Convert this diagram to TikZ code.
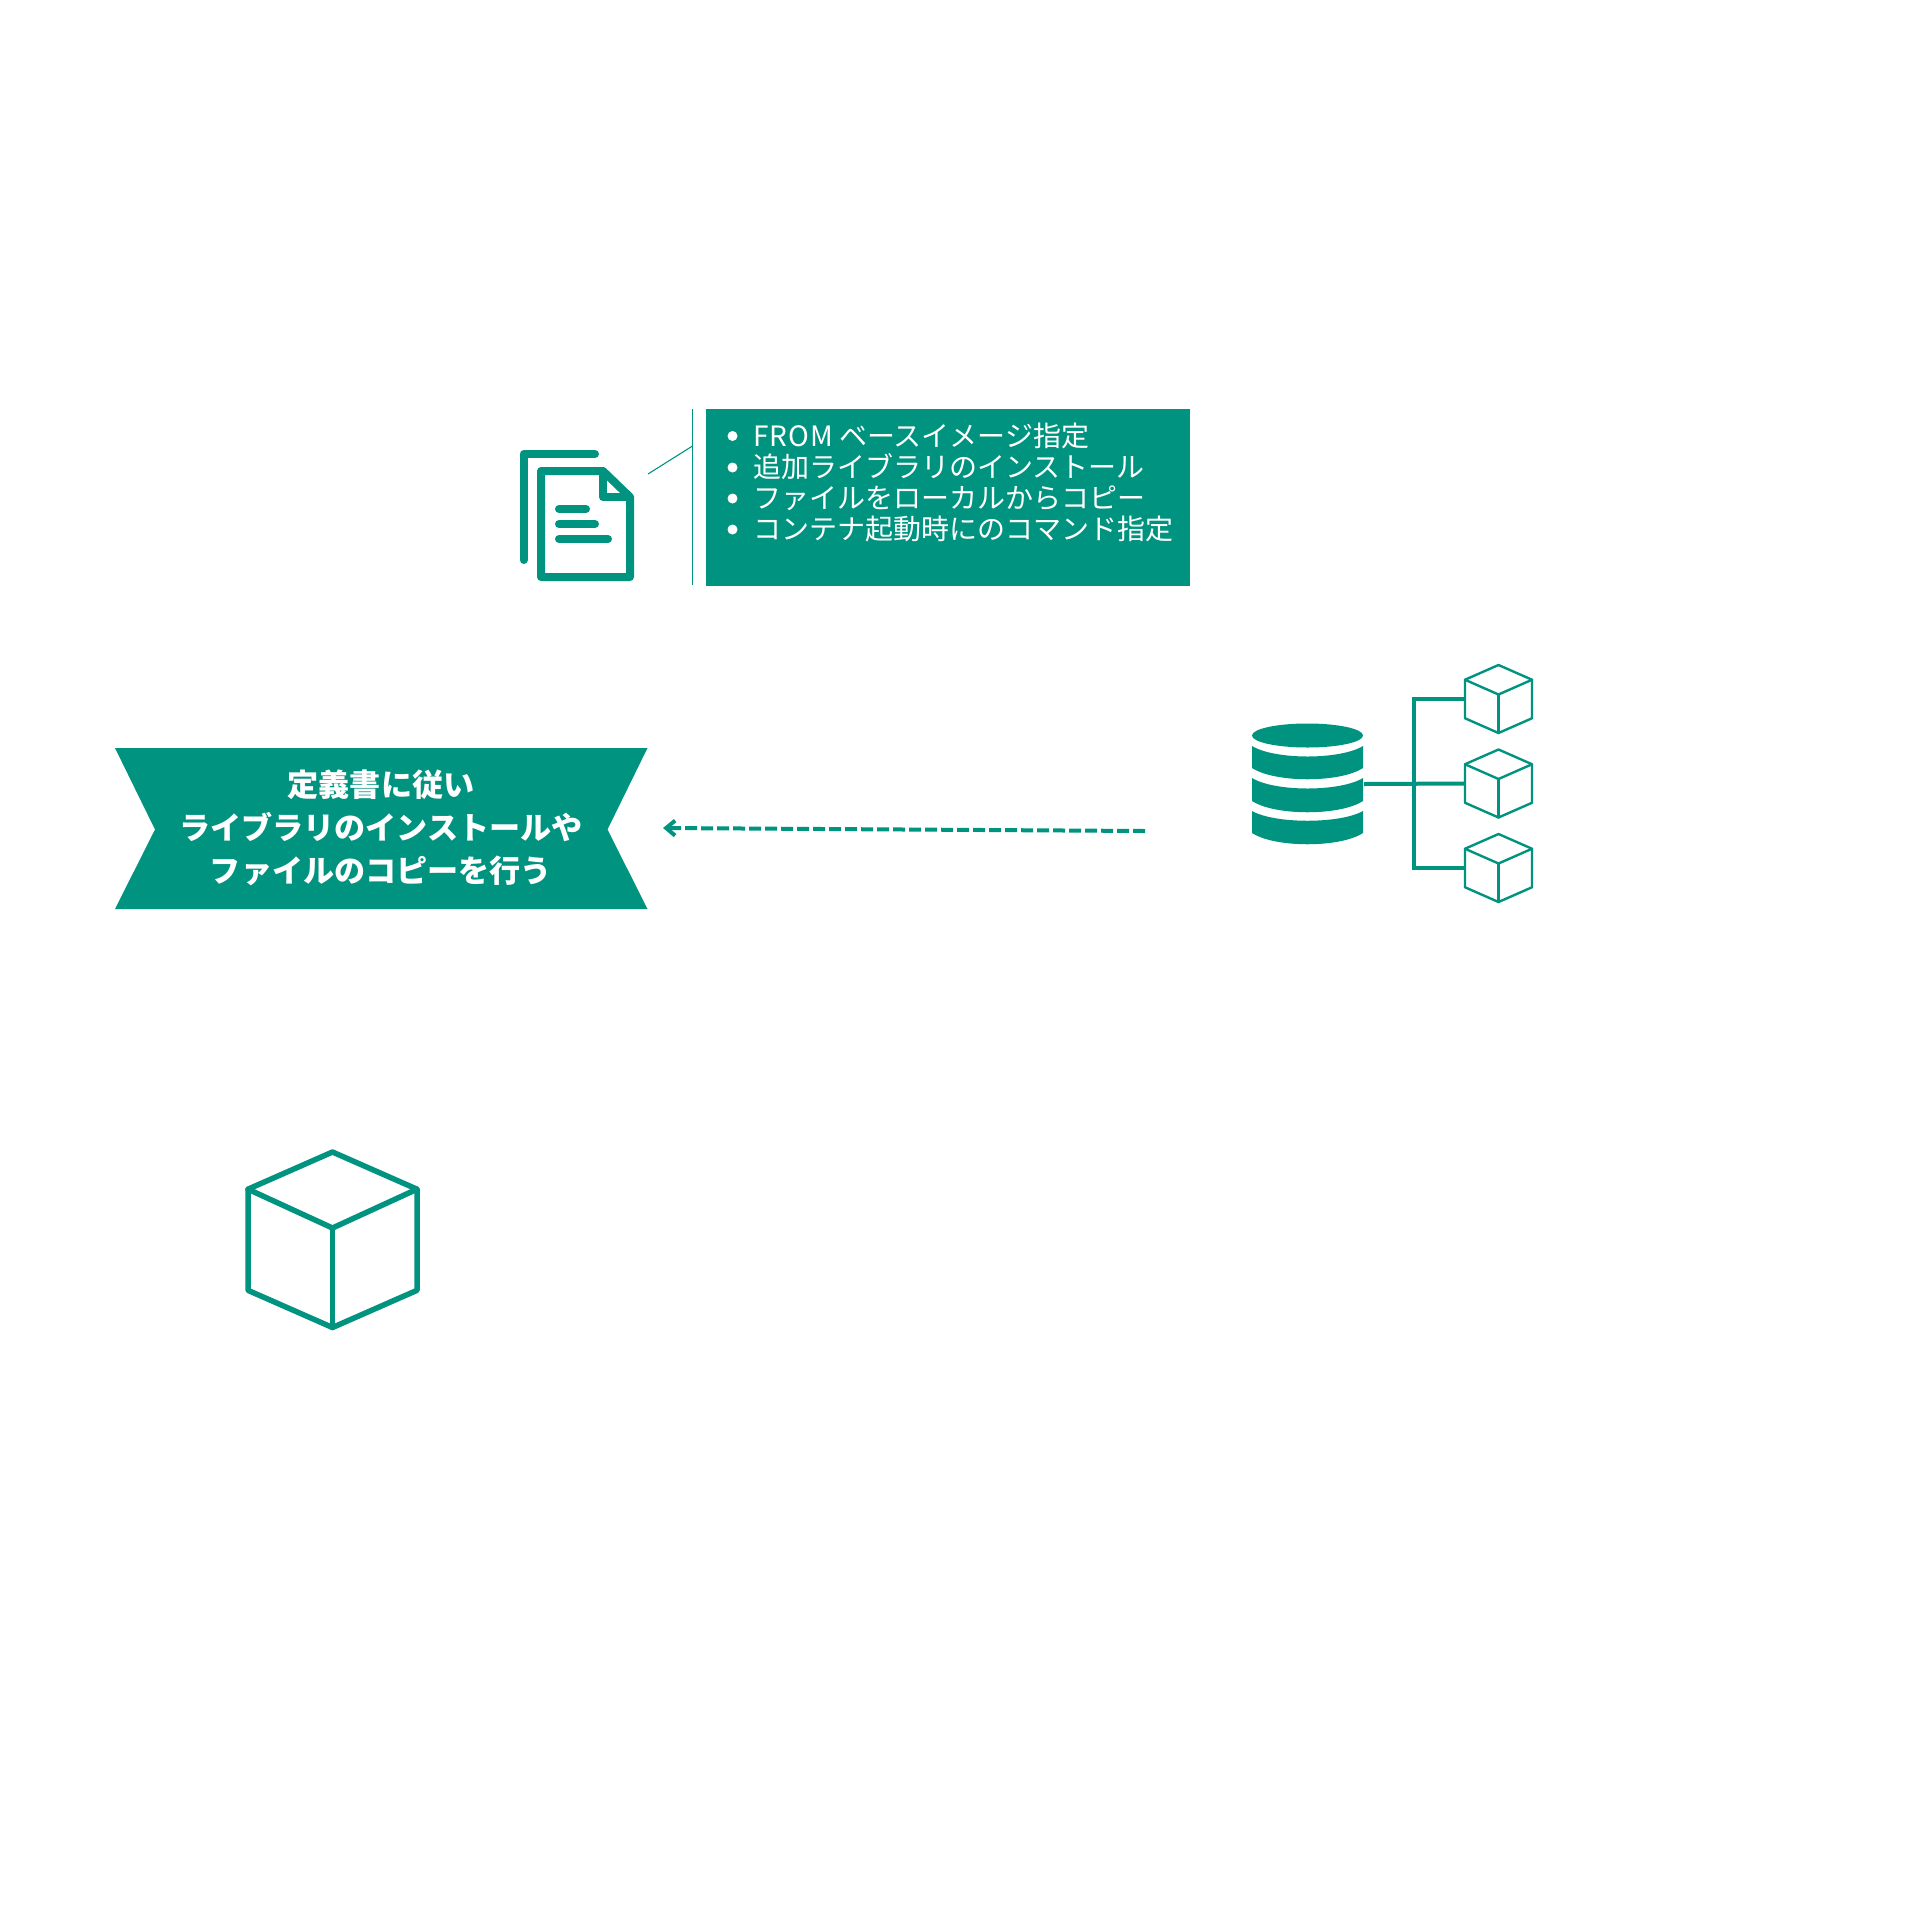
\documentclass[tikz,border=0pt]{standalone}
\usepackage{fontspec}
\usetikzlibrary{arrows.meta}
\newfontfamily\cjk{Noto Sans CJK JP}
\definecolor{teal1}{HTML}{009480}
\tikzset{
  x=1pt,y=-1pt,
  boxline/.style={draw=teal1,line width=1.1pt},
  wire/.style={draw=teal1,line width=4pt,line cap=butt},
  listtext/.style={font=\cjk\fontsize{28}{28}\selectfont,text=white,inner sep=0pt,anchor=base west},
  bannertext/.style={font=\cjk\bfseries\fontsize{31.1}{31.1}\selectfont,text=white,inner sep=0pt,anchor=base},
  iconline/.style={draw=teal1,line width=8pt,line join=round,line cap=round},
  cubeline/.style={draw=teal1,line join=round,line cap=round},
  dbpart/.style={fill=teal1,draw=none},
  listdot/.style={circle,fill=white,minimum size=10pt,inner sep=0pt},
  flow/.style={draw=teal1,line width=4pt,dash pattern=on 12pt off 4pt,-{Straight Barb[length=9pt,width=15pt,line width=4pt]}}
}
\newcommand{\cubeicon}[7]{% name, cx, cy(top), half width, stroke, inner y, bottom y
  \begin{scope}[shift={(#2,#3)}]
    \draw[cubeline,line width=#5pt] (0,0) -- (#4,#4*0.44) -- (#4,#7-#4*0.44) -- (0,#7) -- (-#4,#7-#4*0.44) -- (-#4,#4*0.44) -- cycle;
    \draw[cubeline,line width=#5pt] (-#4,#4*0.44) -- (0,#6) -- (#4,#4*0.44);
    \draw[cubeline,line width=#5pt] (0,#6) -- (0,#7);
    \coordinate (#1) at (-#4,#7*0.5);
  \end{scope}}
\begin{document}
\begin{tikzpicture}
\useasboundingbox (0,0) rectangle (1920,1920);
\fill[white] (0,0) rectangle (1920,1920);

% document icon
\draw[iconline] (595,454) -- (523.5,454) -- (523.5,560);
\draw[iconline] (541,471) -- (603,471) -- (630,497) -- (630,577) -- (541,577) -- cycle;
\draw[iconline] (603,471) -- (603,497) -- (630,497);
\draw[iconline] (559,509) -- (586,509);
\draw[iconline] (559,524) -- (595,524);
\draw[iconline] (559,539) -- (608,539);

% callout
\coordinate (calloutfoot) at (648,474);
\coordinate (callouttop) at (692.5,409);
\coordinate (calloutjoin) at (692.5,446);
\coordinate (calloutbottom) at (692.5,585);
\draw[boxline] (callouttop) -- (calloutbottom);
\draw[boxline] (calloutfoot) -- (calloutjoin);
\node[fill=teal1,minimum width=484pt,minimum height=176.5pt,inner sep=0pt] (listbox) at (948,497.5) {};
\foreach \n/\y in {a/436,b/467.5,c/498.5,d/529.5}{\node[listdot] (dot\n) at (732.5,\y) {};}
\node[listtext] (la) at (753,446) {{\addfontfeature{LetterSpace=3.5}FROM} ベースイメージ指定};
\node[listtext] (lb) at (753,477) {追加ライブラリのインストール};
\node[listtext] (lc) at (753,508) {ファイルをローカルからコピー};
\node[listtext] (ld) at (753,539) {コンテナ起動時にのコマンド指定};

% banner
\fill[teal1] (115,748) -- (647.5,748) -- (607.5,829.5) -- (647.5,909) -- (115,909) -- (155,829.5) -- cycle;
\node[bannertext] (ba) at (381,796) {定義書に従い};
\node[bannertext] (bb) at (381,839) {ライブラリのインストールや};
\node[bannertext] (bc) at (381,882) {ファイルのコピーを行う};

% dashed arrow
\coordinate (flowstart) at (1145,831);
\coordinate (flowend) at (663,828);
\draw[flow] (flowstart) -- (flowend);

% database
\fill[dbpart] (1307.5,735.5) ellipse (55.5pt and 12pt);
\fill[dbpart] (1252,746) .. controls (1275,760) and (1340,760) .. (1363,746) -- (1363,768) .. controls (1340,783) and (1275,783) .. (1252,768) -- cycle;
\fill[dbpart] (1252,778) .. controls (1275,792) and (1340,792) .. (1363,778) -- (1363,801) .. controls (1340,816) and (1275,816) .. (1252,801) -- cycle;
\fill[dbpart] (1252,811) .. controls (1275,824) and (1340,824) .. (1363,811) -- (1363,833) .. controls (1340,848) and (1275,848) .. (1252,833) -- cycle;
\coordinate (db) at (1364,784);

% small cubes
\cubeicon{cubea}{1498.5}{665}{33.5}{2.4}{29.5}{68}
\cubeicon{cubeb}{1498.5}{749.5}{33.5}{2.4}{29.5}{68}
\cubeicon{cubec}{1498.5}{834}{33.5}{2.4}{29.5}{68}
\coordinate (trunk) at (1414,784);
\draw[wire] (db) -- (cubeb);
\draw[wire] (cubea) -| (trunk) |- (cubec);

% large cube
\cubeicon{cubebig}{332.5}{1152}{84.5}{5.5}{76}{175.5}
\end{tikzpicture}
\end{document}
